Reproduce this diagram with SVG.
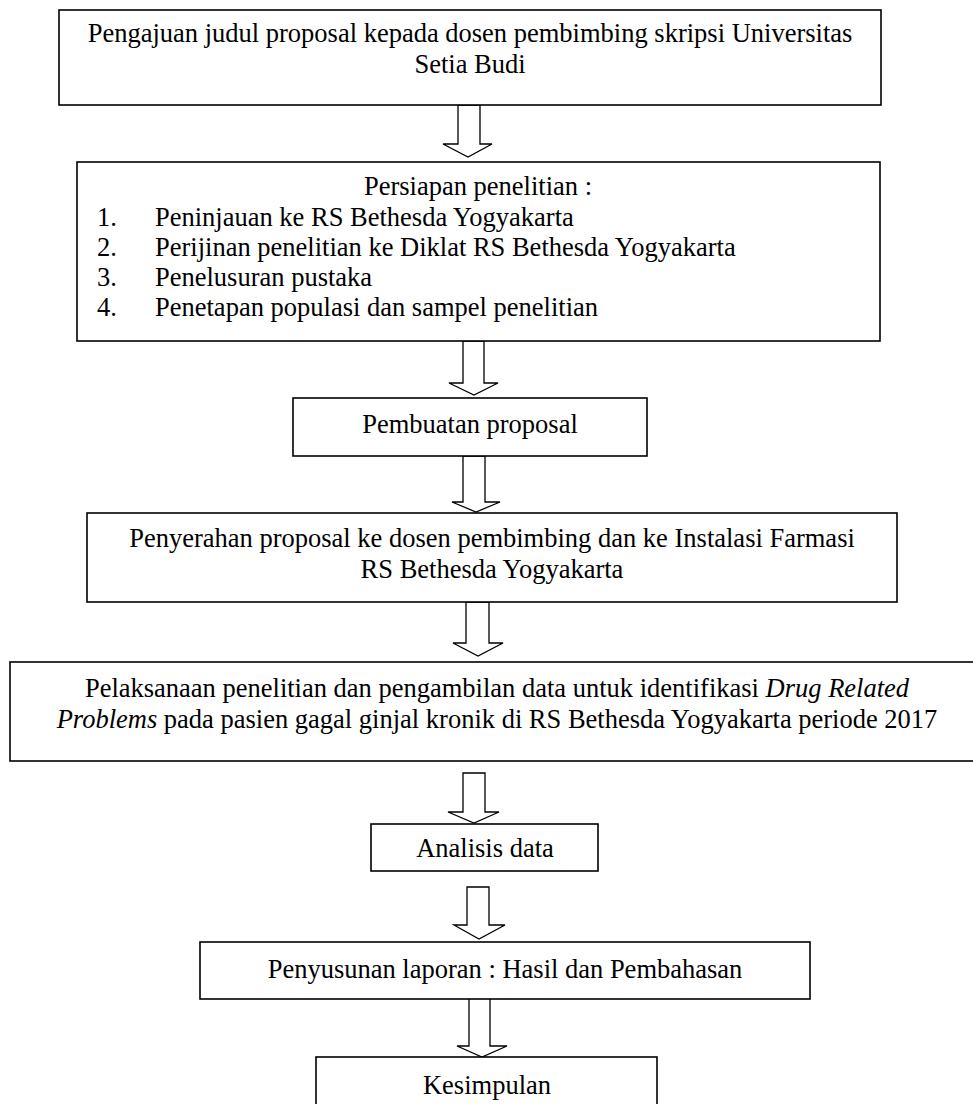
<svg xmlns="http://www.w3.org/2000/svg" width="973" height="1104" viewBox="0 0 973 1104">
<style>
.box{fill:#fff;stroke:#000;stroke-width:1.6}
.arr{fill:#fff;stroke:#000;stroke-width:1.3;stroke-linejoin:miter}
text{font-family:"Liberation Serif","Times New Roman",serif;font-size:26.5px;fill:#000}
.c{text-anchor:middle}
</style>
<rect width="973" height="1104" fill="#fff"/>
<g id="connectors">
<polygon class="arr" points="458,105 480,105 480,144 492,144 468,157 443,144 458,144"/>
<polygon class="arr" points="463,341 484,341 484,383 498,383 474,395 449,383 463,383"/>
<polygon class="arr" points="463,456 485,456 485,502 500,502 476,512 452,502 463,502"/>
<polygon class="arr" points="466,602 489,602 489,643 503,643 478,656 453,643 466,643"/>
<polygon class="arr" points="463,773 485,773 485,812 499,812 474,823 448,812 463,812"/>
<polygon class="arr" points="467,887 489,887 489,925 505,925 479,939 454,925 467,925"/>
<polygon class="arr" points="469,998 490,998 490,1046 507,1046 482,1057 457,1046 469,1046"/>
</g>
<g id="n1">
<rect class="box" x="59" y="10" width="822" height="95"/>
<text class="c" x="470" y="42">Pengajuan judul proposal kepada dosen pembimbing skripsi Universitas</text>
<text class="c" x="470" y="73">Setia Budi</text>
</g>
<g id="n2">
<rect class="box" x="77" y="162" width="803" height="179"/>
<text class="c" x="478" y="195">Persiapan penelitian :</text>
<text x="97" y="226">1.</text><text x="155" y="226">Peninjauan ke RS Bethesda Yogyakarta</text>
<text x="97" y="256">2.</text><text x="155" y="256">Perijinan penelitian ke Diklat RS Bethesda Yogyakarta</text>
<text x="97" y="286">3.</text><text x="155" y="286">Penelusuran pustaka</text>
<text x="97" y="316">4.</text><text x="155" y="316">Penetapan populasi dan sampel penelitian</text>
</g>
<g id="n3">
<rect class="box" x="293" y="398" width="354" height="58"/>
<text class="c" x="470" y="433">Pembuatan proposal</text>
</g>
<g id="n4">
<rect class="box" x="87" y="513" width="810" height="89"/>
<text class="c" x="492" y="547">Penyerahan proposal ke dosen pembimbing dan ke Instalasi Farmasi</text>
<text class="c" x="492" y="578">RS Bethesda Yogyakarta</text>
</g>
<g id="n5">
<rect class="box" x="10" y="662" width="974" height="99"/>
<text class="c" x="497" y="697">Pelaksanaan penelitian dan pengambilan data untuk identifikasi <tspan font-style="italic">Drug Related</tspan></text>
<text class="c" x="497" y="728"><tspan font-style="italic">Problems</tspan> pada pasien gagal ginjal kronik di RS Bethesda Yogyakarta periode 2017</text>
</g>
<g id="n6">
<rect class="box" x="371" y="824" width="227" height="47"/>
<text class="c" x="485" y="857">Analisis data</text>
</g>
<g id="n7">
<rect class="box" x="200" y="942" width="610" height="57"/>
<text class="c" x="505" y="978">Penyusunan laporan : Hasil dan Pembahasan</text>
</g>
<g id="n8">
<rect class="box" x="316" y="1057" width="341" height="60"/>
<text class="c" x="487" y="1094">Kesimpulan</text>
</g>
</svg>
